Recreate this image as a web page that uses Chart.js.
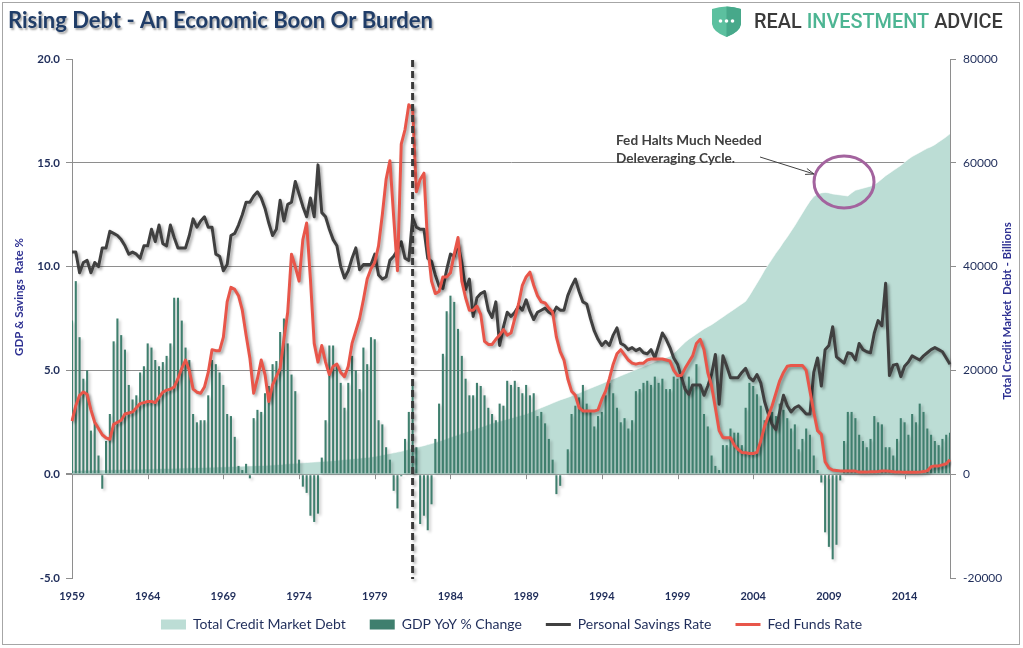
<!DOCTYPE html>
<html>
<head>
<meta charset="utf-8">
<script src="https://cdn.jsdelivr.net/npm/chart.js@4.4.1/dist/chart.umd.min.js"></script>
<style>
  html, body { margin: 0; padding: 0; background: #fff; }
  #wrap { width: 1023px; height: 648px; }
</style>
</head>
<body>
<div id="wrap"><canvas id="debtChart" width="1023" height="648"></canvas></div>
<script>
// quarterly data, 1959Q1 .. 2017Q1
const startYear = 1959;
const tickYears = ["1959", "1964", "1969", "1974", "1979", "1984", "1989", "1994", "1999", "2004", "2009", "2014"];

// GDP YoY % change (left axis)
const gdpChange = [
  7.4, 9.3, 6.6, 4.6, 5.0, 2.1, 2.5, 0.9, -0.7, 1.6, 2.9, 6.4, 7.5, 6.7, 6.0, 4.3, 3.6, 3.8, 4.9, 5.2,
  6.3, 6.1, 5.5, 5.2, 5.4, 5.7, 6.3, 8.5, 8.5, 7.4, 6.1, 5.5, 2.9, 2.5, 2.6, 2.6, 3.8, 5.5, 5.3, 4.9,
  4.3, 2.9, 2.8, 1.8, 0.4, 0.2, 0.5, -0.2, 2.7, 3.1, 3.0, 3.9, 4.25, 5.3, 5.45, 6.85, 7.5, 6.3, 4.8, 4.0,
  0.7, -0.6, -0.9, -2.0, -2.3, -1.9, 0.8, 2.6, 6.2, 6.2, 5.3, 4.4, 3.2, 4.4, 5.7, 5.0, 4.1, 6.1, 5.3, 6.6,
  6.5, 2.6, 2.4, 1.3, 0.7, -0.8, -1.65, -0.1, 1.7, 3.0, 4.3, 1.3, -2.4, -2.0, -2.7, -1.45, 1.7, 3.4, 5.8, 7.85,
  8.6, 8.3, 7.0, 5.7, 4.6, 3.8, 3.8, 4.4, 4.25, 3.8, 3.2, 2.9, 2.6, 3.4, 3.3, 4.5, 4.3, 4.5, 4.2, 3.9,
  4.3, 3.8, 3.9, 2.8, 3.0, 2.45, 1.7, 0.7, -0.96, -0.56, -0.05, 1.2, 2.9, 3.3, 3.7, 4.3, 3.4, 3.0, 2.3, 2.8,
  3.0, 3.8, 4.4, 3.9, 3.2, 2.5, 2.7, 2.2, 2.6, 4.0, 4.1, 4.4, 4.5, 4.3, 4.7, 4.4, 4.6, 4.1, 4.1, 4.7,
  4.6, 4.6, 4.25, 4.7, 4.3, 5.3, 4.25, 2.9, 2.3, 0.9, 0.4, 0.2, 1.4, 1.4, 2.2, 2.0, 2.0, 1.4, 3.2, 4.4,
  4.25, 3.85, 3.3, 2.6, 3.1, 3.0, 2.8, 3.4, 3.1, 2.7, 2.2, 2.4, 1.2, 1.7, 2.2, 1.9, 0.9, 0.2, -0.4, -2.8,
  -3.5, -4.1, -3.4, -0.3, 1.6, 3.0, 3.0, 2.7, 1.9, 1.6, 1.3, 1.7, 2.8, 2.5, 2.4, 1.3, 1.3, 0.9, 1.7, 2.7,
  2.5, 1.9, 2.9, 2.5, 3.4, 3.0, 2.2, 1.9, 1.6, 1.4, 1.7, 1.9, 2.0
];

// Personal savings rate % (left axis)
const savingsRate = [
  10.7, 10.7, 9.7, 10.2, 10.3, 9.7, 10.2, 10.0, 10.9, 10.9, 11.7, 11.6, 11.5, 11.3, 11.0, 10.6, 10.7, 10.6, 10.4, 11.0,
  11.0, 11.8, 11.2, 12.0, 11.1, 11.0, 12.0, 11.4, 10.9, 10.9, 10.9, 11.5, 12.3, 11.9, 12.2, 12.4, 11.9, 11.9, 10.6, 10.5,
  9.8, 10.1, 11.5, 11.6, 12.0, 12.5, 13.1, 13.1, 13.4, 13.6, 13.3, 12.8, 12.1, 11.5, 11.8, 13.2, 12.2, 13.0, 13.1, 14.1,
  13.5, 12.9, 12.4, 13.3, 12.4, 14.9, 12.6, 12.4, 11.8, 11.3, 11.0, 10.0, 9.45, 9.8, 10.4, 10.9, 9.85, 10.1, 10.1, 10.1,
  10.6, 9.6, 9.4, 9.5, 10.3, 10.5, 10.8, 11.2, 10.4, 10.3, 12.35, 11.9, 11.8, 11.8, 10.4, 10.25, 9.6, 9.05, 8.95, 9.85,
  10.6, 10.5, 11.1, 10.2, 8.9, 9.4, 7.6, 8.5, 8.7, 8.8, 7.9, 7.55, 8.3, 6.2, 7.1, 7.8, 7.6, 7.8, 8.1, 7.9,
  8.4, 7.85, 7.45, 7.8, 7.9, 8.0, 7.8, 7.7, 8.05, 7.9, 7.9, 8.6, 9.05, 9.4, 8.8, 8.3, 8.2, 7.5, 6.9, 6.5,
  6.2, 6.4, 6.2, 6.7, 7.05, 6.3, 6.2, 6.0, 6.1, 5.95, 6.05, 5.85, 5.8, 6.0, 5.6, 6.2, 6.8, 6.5, 6.1, 5.6,
  5.3, 4.7, 4.1, 3.85, 4.3, 4.3, 4.3, 3.8, 4.25, 4.8, 5.77, 3.37, 5.7, 5.2, 4.65, 4.65, 4.65, 4.9, 5.1, 4.65,
  4.5, 4.8, 4.4, 3.5, 2.9, 2.4, 2.15, 3.0, 3.8, 3.3, 3.0, 3.2, 3.3, 3.1, 2.9, 2.9, 4.9, 5.6, 4.25, 6.0,
  6.2, 7.1, 5.65, 5.5, 5.35, 5.85, 5.8, 5.5, 6.3, 6.0, 5.9, 5.85, 6.8, 7.4, 7.15, 9.2, 4.75, 5.25, 5.3, 4.7,
  5.2, 5.4, 5.7, 5.6, 5.5, 5.7, 5.85, 6.0, 6.1, 6.0, 5.9, 5.6, 5.3
];

// Fed funds rate % (left axis)
const fedFunds = [
  2.56, 3.3, 3.8, 3.96, 3.85, 3.1, 2.5, 2.2, 1.9, 1.75, 1.68, 2.4, 2.5, 2.6, 2.9, 2.95, 3.0, 3.2, 3.4, 3.45,
  3.5, 3.5, 3.45, 3.7, 3.95, 4.05, 4.1, 4.2, 4.6, 5.1, 5.5, 5.0, 4.1, 3.95, 3.9, 4.2, 4.9, 6.0, 5.95, 5.95,
  6.6, 8.3, 9.0, 8.9, 8.6, 7.9, 6.7, 5.6, 3.9, 4.6, 5.5, 4.8, 3.5, 4.3, 4.7, 5.1, 6.5, 7.8, 10.6, 10.0,
  9.3, 11.3, 12.1, 9.4, 6.3, 5.4, 6.2, 5.4, 4.8, 5.2, 5.3, 4.9, 4.7, 5.2, 6.3, 6.9, 7.5, 8.4, 9.4, 9.9,
  10.2, 11.0, 12.5, 14.2, 15.1, 12.4, 9.8, 15.9, 16.6, 17.8, 17.6, 13.6, 14.2, 14.5, 11.0, 9.3, 8.7, 8.8, 9.5, 9.5,
  9.7, 10.6, 11.4, 9.3, 8.5, 7.9, 7.9, 8.1, 7.7, 6.4, 6.25, 6.25, 6.5, 6.7, 6.97, 6.7, 6.8, 7.5, 8.2, 9.1,
  9.5, 9.73, 9.1, 8.6, 8.3, 8.25, 8.0, 7.8, 6.6, 5.9, 5.5, 4.6, 4.0, 3.8, 3.2, 3.05, 3.04, 3.04, 3.04, 3.1,
  3.6, 4.0, 4.6, 5.3, 5.8, 6.0, 5.75, 5.5, 5.35, 5.3, 5.35, 5.35, 5.5, 5.55, 5.55, 5.55, 5.55, 5.5, 5.45, 5.0,
  4.75, 4.75, 5.1, 5.4, 5.7, 6.3, 6.5, 6.0, 4.9, 4.25, 3.2, 2.1, 1.76, 1.76, 1.76, 1.4, 1.2, 1.05, 1.03, 1.0,
  1.0, 1.05, 1.6, 2.3, 2.8, 3.3, 3.9, 4.5, 4.9, 5.2, 5.24, 5.24, 5.24, 5.24, 5.0, 4.0, 3.0, 2.1, 1.92, 0.6,
  0.3, 0.2, 0.18, 0.16, 0.15, 0.15, 0.15, 0.15, 0.1, 0.1, 0.1, 0.12, 0.12, 0.13, 0.15, 0.15, 0.14, 0.12, 0.1, 0.1,
  0.09, 0.09, 0.09, 0.09, 0.1, 0.13, 0.16, 0.36, 0.4, 0.4, 0.45, 0.5, 0.7
];

// Total credit market debt, billions (right axis)
const creditDebt = [
  700, 715, 730, 745, 760, 775, 790, 800, 815, 830, 845, 860, 875, 890, 905, 920, 935, 950, 965, 985,
  1000, 1020, 1040, 1060, 1080, 1100, 1120, 1140, 1160, 1180, 1200, 1220, 1240, 1260, 1285, 1310, 1330, 1350, 1370, 1385,
  1400, 1430, 1460, 1490, 1520, 1550, 1580, 1600, 1630, 1650, 1670, 1700, 1730, 1780, 1830, 1880, 1940, 2000, 2050, 2100,
  2150, 2200, 2250, 2300, 2350, 2400, 2450, 2500, 2550, 2600, 2700, 2760, 2820, 2880, 2950, 3020, 3090, 3160, 3230, 3300,
  3430, 3560, 3700, 3840, 3980, 4120, 4260, 4400, 4600, 4780, 4960, 5140, 5320, 5500, 5700, 5900, 6100, 6350, 6600, 6850,
  7100, 7350, 7600, 7850, 8100, 8300, 8550, 8800, 9050, 9300, 9600, 9800, 10000, 10200, 10400, 10600, 10800, 11000, 11200, 11400,
  11600, 11900, 12200, 12500, 12800, 13100, 13400, 13700, 14000, 14300, 14550, 14800, 15050, 15350, 15650, 15950, 16250, 16550, 16850, 17150,
  17450, 17750, 18050, 18350, 18650, 18950, 19250, 19550, 19850, 20150, 20450, 20750, 21050, 21350, 21650, 21950, 22200, 22450, 22750, 23300,
  24000, 24700, 25400, 26000, 26500, 27000, 27500, 28000, 28400, 28800, 29300, 29800, 30300, 30800, 31300, 31800, 32300, 32800, 33300, 34400,
  35600, 36800, 38000, 39300, 40400, 41500, 42600, 43600, 44700, 45700, 46800, 47900, 49100, 50300, 51500, 52600, 53500, 54000, 54200, 54300,
  54200, 54000, 53900, 53800, 53700, 53600, 54200, 54700, 54900, 55100, 55300, 55500, 55800, 56300, 56900, 57500, 58000, 58500, 59000, 59500,
  60100, 60700, 61200, 61600, 62000, 62400, 62800, 63100, 63500, 64000, 64500, 65000, 65600
];

const quarters = [];
for (let i = 0; i < gdpChange.length; i++) {
  quarters.push(startYear + Math.floor(i / 4) + "Q" + ((i % 4) + 1));
}

const navy = "#1F2D5A";
const titleBlue = "#2E3192";
const gridGray = "#8E8E8E";
const areaColor = "#BCDDD5";
const barColor = "#3F7F6E";
const savingsColor = "#404040";
const fedColor = "#E8564A";

const legendItems = [
  { text: "Total Credit Market Debt", fillStyle: areaColor, strokeStyle: areaColor, lineWidth: 0, pointStyle: "rect" },
  { text: "GDP YoY % Change", fillStyle: barColor, strokeStyle: barColor, lineWidth: 0, pointStyle: "rect" },
  { text: "Personal Savings Rate", fillStyle: savingsColor, strokeStyle: savingsColor, lineWidth: 3, pointStyle: "line" },
  { text: "Fed Funds Rate", fillStyle: fedColor, strokeStyle: fedColor, lineWidth: 3, pointStyle: "line" },
];

function fitFont(ctx, text, weight, family, width) {
  ctx.font = weight + " 100px " + family;
  const size = (100 * width) / ctx.measureText(text).width;
  return weight + " " + size.toFixed(1) + "px " + family;
}

const decorations = {
  id: "decorations",
  afterLayout(chart) {
    // pull the legend row up so it sits right under the year labels
    const lg = chart.legend;
    if (lg) {
      lg.top -= 14.5;
      lg.bottom -= 14.5;
    }
  },
  beforeDatasetDraw(chart, args) {
    const ds = chart.data.datasets[args.index];
    if (!ds.shadow) return;
    const ctx = chart.ctx;
    ctx.save();
    ctx.shadowColor = ds.shadow;
    ctx.shadowBlur = 3;
    ctx.shadowOffsetX = 2;
    ctx.shadowOffsetY = 2;
  },
  afterDatasetDraw(chart, args) {
    if (chart.data.datasets[args.index].shadow) chart.ctx.restore();
  },
  afterDatasetsDraw(chart) {
    const ctx = chart.ctx;
    const xs = chart.scales.x;
    const ys = chart.scales.y;
    const area = chart.chartArea;
    const y0 = ys.getPixelForValue(0);

    // small tick marks on the zero line
    ctx.save();
    ctx.strokeStyle = gridGray;
    ctx.lineWidth = 1;
    for (let i = 20; i < quarters.length; i += 20) {
      const x = Math.round(xs.getPixelForValue(i)) + 0.5;
      ctx.beginPath();
      ctx.moveTo(x, y0);
      ctx.lineTo(x, y0 + 5);
      ctx.stroke();
    }
    ctx.restore();

    // dashed marker at 1981Q3
    const xv = xs.getPixelForValue(quarters.indexOf("1981Q3"));
    ctx.save();
    ctx.shadowColor = "rgba(0,0,0,0.3)";
    ctx.shadowBlur = 3;
    ctx.shadowOffsetX = 2;
    ctx.shadowOffsetY = 2;
    ctx.strokeStyle = "#3A3A3A";
    ctx.lineWidth = 3;
    ctx.setLineDash([7, 4]);
    ctx.beginPath();
    ctx.moveTo(xv, area.top + 1);
    ctx.lineTo(xv, area.bottom + 1);
    ctx.stroke();
    ctx.restore();
  },
  afterDraw(chart) {
    const ctx = chart.ctx;
    const xs = chart.scales.x;
    const y1 = chart.scales.y1;

    ctx.save();
    // outer frame
    ctx.strokeStyle = "#A6A6A6";
    ctx.lineWidth = 1;
    ctx.strokeRect(2.5, 2.5, 1017, 642);

    // title
    ctx.font = fitFont(ctx, "Rising Debt - An Economic Boon Or Burden", "bold", "Lato", 425);
    ctx.textBaseline = "alphabetic";
    ctx.textAlign = "left";
    ctx.shadowColor = "rgba(0,0,0,0.35)";
    ctx.shadowBlur = 2;
    ctx.shadowOffsetX = 1.5;
    ctx.shadowOffsetY = 1.5;
    ctx.fillStyle = "#203D68";
    ctx.fillText("Rising Debt - An Economic Boon Or Burden", 8, 28);
    ctx.shadowColor = "transparent";

    // logo shield
    ctx.beginPath();
    ctx.moveTo(712, 9);
    ctx.quadraticCurveTo(726.5, 4, 741, 9);
    ctx.lineTo(741, 24);
    ctx.quadraticCurveTo(740, 32, 726.5, 37);
    ctx.quadraticCurveTo(713, 32, 712, 24);
    ctx.closePath();
    ctx.fillStyle = "#5CC09F";
    ctx.fill();
    ctx.save();
    ctx.clip();
    ctx.fillStyle = "#47A88A";
    ctx.fillRect(726.5, 0, 20, 40);
    ctx.restore();
    ctx.fillStyle = "#FFFFFF";
    [720.5, 726.5, 732.5].forEach((cx) => {
      ctx.beginPath();
      ctx.arc(cx, 21, 1.8, 0, Math.PI * 2);
      ctx.fill();
    });

    // logo text
    const logoParts = [["REAL ", "#3A3A3A"], ["INVESTMENT ", "#4DB593"], ["ADVICE", "#3A3A3A"]];
    ctx.font = fitFont(ctx, "REAL INVESTMENT ADVICE", "500", "Roboto", 249);
    let lx = 754;
    logoParts.forEach(([t, c]) => {
      ctx.fillStyle = c;
      ctx.fillText(t, lx, 28);
      lx += ctx.measureText(t).width;
    });

    // axis titles
    ctx.fillStyle = titleBlue;
    ctx.font = "bold 11.5px Lato";
    ctx.textAlign = "center";
    ctx.textBaseline = "middle";
    ctx.save();
    ctx.translate(19, 297);
    ctx.rotate(-Math.PI / 2);
    ctx.fillText("GDP & Savings  Rate %", 0, 0);
    ctx.restore();
    ctx.save();
    ctx.translate(1007, 311);
    ctx.rotate(-Math.PI / 2);
    ctx.fillText("Total Credit Market  Debt - Billions", 0, 0);
    ctx.restore();

    // annotation around the 2009-2010 plateau
    const cx = xs.getPixelForValue(quarters.indexOf("2010Q1"));
    const cy = y1.getPixelForValue(56300);
    ctx.strokeStyle = "#A3639E";
    ctx.lineWidth = 3;
    ctx.beginPath();
    ctx.ellipse(cx, cy, 30, 26, 0, 0, Math.PI * 2);
    ctx.stroke();

    const ax0 = cx - 84, ay0 = cy - 25, ax1 = cx - 30, ay1 = cy - 8;
    ctx.strokeStyle = "#404040";
    ctx.lineWidth = 1;
    ctx.beginPath();
    ctx.moveTo(ax0, ay0);
    ctx.lineTo(ax1, ay1);
    const ang = Math.atan2(ay1 - ay0, ax1 - ax0);
    ctx.moveTo(ax1 - 9 * Math.cos(ang - 0.35), ay1 - 9 * Math.sin(ang - 0.35));
    ctx.lineTo(ax1, ay1);
    ctx.lineTo(ax1 - 9 * Math.cos(ang + 0.35), ay1 - 9 * Math.sin(ang + 0.35));
    ctx.stroke();

    ctx.fillStyle = "#404040";
    ctx.font = "bold 13.6px Lato";
    ctx.textAlign = "left";
    ctx.textBaseline = "middle";
    ctx.fillText("Fed Halts Much Needed", cx - 228, cy - 41);
    ctx.fillText("Deleveraging Cycle.", cx - 228, cy - 23);
    ctx.restore();
  },
};

new Chart(document.getElementById("debtChart"), {
  data: {
    labels: quarters,
    datasets: [
      {
        type: "line",
        label: "Fed Funds Rate",
        data: fedFunds,
        yAxisID: "y",
        borderColor: fedColor,
        borderWidth: 3,
        pointRadius: 0,
        tension: 0,
        borderJoinStyle: "round",
        fill: false,
        order: 1,
        shadow: "rgba(0,0,0,0.35)",
      },
      {
        type: "line",
        label: "Personal Savings Rate",
        data: savingsRate,
        yAxisID: "y",
        borderColor: savingsColor,
        borderWidth: 3,
        pointRadius: 0,
        tension: 0,
        borderJoinStyle: "round",
        fill: false,
        order: 2,
        shadow: "rgba(0,0,0,0.35)",
      },
      {
        type: "bar",
        label: "GDP YoY % Change",
        data: gdpChange,
        yAxisID: "y",
        backgroundColor: barColor,
        barPercentage: 0.55,
        categoryPercentage: 1,
        order: 3,
        shadow: "rgba(0,0,0,0.22)",
      },
      {
        type: "line",
        label: "Total Credit Market Debt",
        data: creditDebt,
        yAxisID: "y1",
        borderColor: "rgba(255,255,255,0.6)",
        borderWidth: 1,
        backgroundColor: areaColor,
        pointRadius: 0,
        tension: 0,
        fill: "origin",
        order: 4,
      },
    ],
  },
  options: {
    responsive: false,
    animation: false,
    devicePixelRatio: 1,
    layout: { padding: { top: 59, left: 0, right: 0, bottom: -8 } },
    plugins: {
      tooltip: { enabled: false },
      legend: {
        position: "bottom",
        labels: {
          usePointStyle: true,
          pointStyleWidth: 25,
          boxHeight: 10,
          padding: 24,
          color: navy,
          font: { family: "Lato", size: 14 },
          generateLabels: () => legendItems.map((it) => ({ ...it, hidden: false, fontColor: navy })),
        },
      },
    },
    scales: {
      x: {
        type: "category",
        offset: false,
        grid: { display: false, drawTicks: false },
        border: { display: false },
        ticks: {
          autoSkip: false,
          maxRotation: 0,
          padding: 12,
          color: navy,
          font: { family: "Lato", size: 11, weight: "bold" },
          callback: (v, i) => (i % 20 === 0 ? tickYears[i / 20] : null),
        },
        afterFit: (s) => { s.height = 30; },
      },
      y: {
        position: "left",
        min: -5,
        max: 20,
        ticks: {
          stepSize: 5,
          padding: 6,
          color: navy,
          font: { family: "Lato", size: 11.5, weight: "bold" },
          callback: (v) => v.toFixed(1),
        },
        grid: {
          color: (c) => (c.tick && c.tick.value > -5 && c.tick.value < 20 ? gridGray : "rgba(0,0,0,0)"),
          lineWidth: (c) => (c.tick && c.tick.value === 0 ? 2 : 1),
          tickColor: gridGray,
          tickLength: 6,
        },
        border: { display: true, color: gridGray, width: 1 },
        afterFit: (s) => { s.width = 72; },
      },
      y1: {
        position: "right",
        min: -20000,
        max: 80000,
        ticks: {
          stepSize: 20000,
          padding: 7,
          color: navy,
          font: { family: "Lato", size: 12 },
          callback: (v) => String(v),
        },
        grid: { drawOnChartArea: false, tickColor: gridGray, tickLength: 6 },
        border: { display: true, color: gridGray, width: 1 },
        afterFit: (s) => { s.width = 73; },
      },
    },
  },
  plugins: [decorations],
});
</script>
</body>
</html>
